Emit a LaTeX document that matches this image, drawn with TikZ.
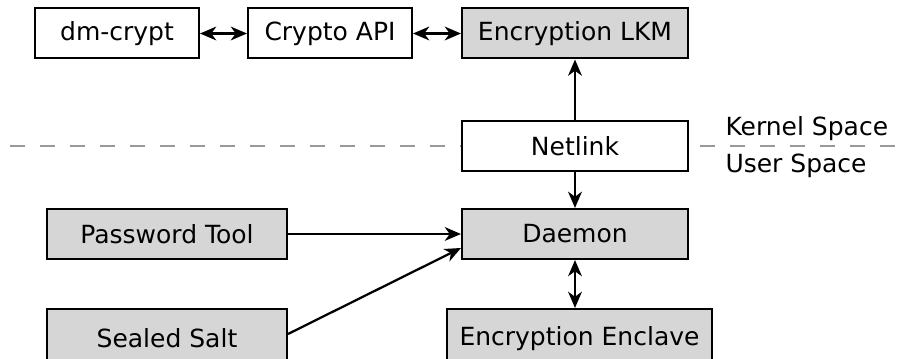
\documentclass[tikz,border=0pt]{standalone}
\usepackage{fontspec}
\setmainfont{DejaVu Sans}
\usetikzlibrary{positioning, arrows.meta}
\definecolor{boxgray}{HTML}{D6D6D6}
\tikzstyle{bx} = [rectangle, draw, line width=0.8pt, text centered, minimum height=20pt, inner sep=2pt, font=\fontsize{10}{12}\selectfont]
\tikzstyle{bxg} = [bx, fill=boxgray]
\tikzstyle{lbl} = [font=\fontsize{10}{12}\selectfont, inner sep=0pt]
\tikzstyle{ar} = [line width=0.9pt, -{Stealth[length=6.5pt, width=5.5pt, inset=2pt]}]
\tikzstyle{dar} = [line width=0.9pt, {Stealth[length=6.5pt, width=5.5pt, inset=2pt]}-{Stealth[length=6.5pt, width=5.5pt, inset=2pt]}]
\tikzstyle{sep} = [line width=1pt, draw=black!40, dash pattern=on 6pt off 6pt, dash phase=8pt]

\begin{document}
\begin{tikzpicture}[node distance=20pt]
	\useasboundingbox (0,0) rectangle (359.6pt,-143.6pt);
	\coordinate (sl) at (0,-58.4pt);
	\coordinate (sr) at (359.6pt,-58.4pt);
	\draw[sep] (sl) -- (sr);
	\node [bx, minimum width=65.6pt] (dm) at (46.8pt,-13.4pt) {dm-crypt};
	\node [bx, right = 18.8pt of dm, minimum width=65.6pt] (api) {Crypto API};
	\node [bxg, right = 19.2pt of api, minimum width=90.4pt] (lkm) {Encryption LKM};
	\node [bx, below = 24.2pt of lkm, minimum width=90.4pt, fill=white] (nl) {Netlink};
	\node [bxg, below = 14.4pt of nl, minimum width=90.4pt] (dae) {Daemon};
	\node [bxg, below = 19.2pt of dae, xshift=1.8pt, minimum width=106pt, minimum height=23.4pt] (enc) {Encryption Enclave};
	\node [bxg, left = 69.2pt of dae, minimum width=96pt] (pw) {Password Tool};
	\node [bxg, below = 19.2pt of pw, minimum width=96pt, minimum height=23.4pt] (salt) {Sealed Salt};
	\node [lbl, anchor=west] (ks) at ([xshift=14.4pt, yshift=6.8pt]nl.east) {Kernel Space};
	\node [lbl, anchor=west] (us) at ([xshift=14.4pt, yshift=-8pt]nl.east) {User Space};
	\draw[dar] (dm) -- (api);
	\draw[dar] (api) -- (lkm);
	\draw[ar] (nl) -- (lkm);
	\draw[ar] (nl) -- (dae);
	\draw[ar] (pw) -- (dae);
	\draw[ar] ([yshift=1.7pt]salt.east) -- ([yshift=-5.6pt]dae.west);
	\draw[dar] (dae.south) -- (dae.south |- enc.north);
\end{tikzpicture}
\end{document}
